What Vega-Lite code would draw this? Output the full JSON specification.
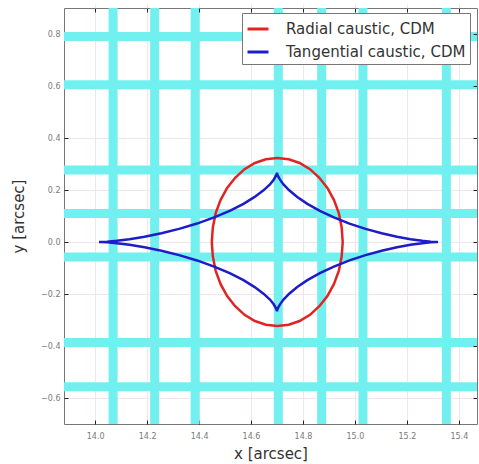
{
  "$schema": "https://vega.github.io/schema/vega-lite/v6.json",
  "width": 413,
  "height": 416,
  "autosize": {"type": "none"},
  "padding": {"left": 64, "top": 8, "right": 2, "bottom": 40},
  "background": "white",
  "config": {
    "view": {"stroke": "#777777", "strokeWidth": 1},
    "font": "DejaVu Sans",
    "axis": {
      "labelFont": "DejaVu Sans",
      "labelFontSize": 8,
      "labelColor": "#7a7a7a",
      "titleFont": "DejaVu Sans",
      "titleFontSize": 15,
      "titleFontWeight": "normal",
      "titleColor": "#333333",
      "tickColor": "#222222",
      "tickSize": 4,
      "offset": -4,
      "tickWidth": 1,
      "domain": false,
      "gridColor": "#f1e6e6",
      "gridWidth": 1
    },
    "legend": {
      "orient": "none",
      "legendX": 178,
      "legendY": 5,
      "fillColor": "white",
      "strokeColor": "#777777",
      "padding": 4,
      "labelFont": "DejaVu Sans",
      "labelFontSize": 15,
      "labelColor": "#333333",
      "labelLimit": 400,
      "symbolType": "stroke",
      "symbolSize": 440,
      "symbolStrokeWidth": 3,
      "labelOffset": 16,
      "rowPadding": 3,
      "cornerRadius": 0
    }
  },
  "datasets": {
    "vb": [
      {"x": 14.069}, {"x": 14.229}, {"x": 14.385}, {"x": 14.705}, {"x": 14.872}, {"x": 15.031}, {"x": 15.352}
    ],
    "hb": [
      {"y": 0.79}, {"y": 0.605}, {"y": 0.277}, {"y": 0.11}, {"y": -0.058}, {"y": -0.387}, {"y": -0.557}
    ],
    "curves": [
      {"series": "Radial caustic, CDM", "i": 0, "x": 14.953, "y": 0},
      {"series": "Radial caustic, CDM", "i": 1, "x": 14.949, "y": 0.056},
      {"series": "Radial caustic, CDM", "i": 2, "x": 14.938, "y": 0.111},
      {"series": "Radial caustic, CDM", "i": 3, "x": 14.919, "y": 0.162},
      {"series": "Radial caustic, CDM", "i": 4, "x": 14.894, "y": 0.208},
      {"series": "Radial caustic, CDM", "i": 5, "x": 14.863, "y": 0.247},
      {"series": "Radial caustic, CDM", "i": 6, "x": 14.827, "y": 0.280},
      {"series": "Radial caustic, CDM", "i": 7, "x": 14.787, "y": 0.304},
      {"series": "Radial caustic, CDM", "i": 8, "x": 14.745, "y": 0.318},
      {"series": "Radial caustic, CDM", "i": 9, "x": 14.701, "y": 0.323},
      {"series": "Radial caustic, CDM", "i": 10, "x": 14.657, "y": 0.318},
      {"series": "Radial caustic, CDM", "i": 11, "x": 14.615, "y": 0.304},
      {"series": "Radial caustic, CDM", "i": 12, "x": 14.575, "y": 0.280},
      {"series": "Radial caustic, CDM", "i": 13, "x": 14.539, "y": 0.247},
      {"series": "Radial caustic, CDM", "i": 14, "x": 14.508, "y": 0.208},
      {"series": "Radial caustic, CDM", "i": 15, "x": 14.483, "y": 0.162},
      {"series": "Radial caustic, CDM", "i": 16, "x": 14.464, "y": 0.111},
      {"series": "Radial caustic, CDM", "i": 17, "x": 14.453, "y": 0.056},
      {"series": "Radial caustic, CDM", "i": 18, "x": 14.449, "y": 0},
      {"series": "Radial caustic, CDM", "i": 19, "x": 14.453, "y": -0.056},
      {"series": "Radial caustic, CDM", "i": 20, "x": 14.464, "y": -0.111},
      {"series": "Radial caustic, CDM", "i": 21, "x": 14.483, "y": -0.162},
      {"series": "Radial caustic, CDM", "i": 22, "x": 14.508, "y": -0.208},
      {"series": "Radial caustic, CDM", "i": 23, "x": 14.539, "y": -0.247},
      {"series": "Radial caustic, CDM", "i": 24, "x": 14.575, "y": -0.280},
      {"series": "Radial caustic, CDM", "i": 25, "x": 14.615, "y": -0.304},
      {"series": "Radial caustic, CDM", "i": 26, "x": 14.657, "y": -0.318},
      {"series": "Radial caustic, CDM", "i": 27, "x": 14.701, "y": -0.323},
      {"series": "Radial caustic, CDM", "i": 28, "x": 14.745, "y": -0.318},
      {"series": "Radial caustic, CDM", "i": 29, "x": 14.787, "y": -0.304},
      {"series": "Radial caustic, CDM", "i": 30, "x": 14.827, "y": -0.280},
      {"series": "Radial caustic, CDM", "i": 31, "x": 14.863, "y": -0.247},
      {"series": "Radial caustic, CDM", "i": 32, "x": 14.894, "y": -0.208},
      {"series": "Radial caustic, CDM", "i": 33, "x": 14.919, "y": -0.162},
      {"series": "Radial caustic, CDM", "i": 34, "x": 14.938, "y": -0.111},
      {"series": "Radial caustic, CDM", "i": 35, "x": 14.949, "y": -0.056},
      {"series": "Radial caustic, CDM", "i": 36, "x": 14.953, "y": 0},

      {"series": "Tangential caustic, CDM", "i": 0, "x": 15.320, "y": 0},
      {"series": "Tangential caustic, CDM", "i": 1, "x": 15.313, "y": 0.0002},
      {"series": "Tangential caustic, CDM", "i": 2, "x": 15.292, "y": 0.0014},
      {"series": "Tangential caustic, CDM", "i": 3, "x": 15.259, "y": 0.0046},
      {"series": "Tangential caustic, CDM", "i": 4, "x": 15.214, "y": 0.0107},
      {"series": "Tangential caustic, CDM", "i": 5, "x": 15.162, "y": 0.0202},
      {"series": "Tangential caustic, CDM", "i": 6, "x": 15.103, "y": 0.0334},
      {"series": "Tangential caustic, CDM", "i": 7, "x": 15.041, "y": 0.0504},
      {"series": "Tangential caustic, CDM", "i": 8, "x": 14.979, "y": 0.0709},
      {"series": "Tangential caustic, CDM", "i": 9, "x": 14.919, "y": 0.0944},
      {"series": "Tangential caustic, CDM", "i": 10, "x": 14.865, "y": 0.1200},
      {"series": "Tangential caustic, CDM", "i": 11, "x": 14.817, "y": 0.1468},
      {"series": "Tangential caustic, CDM", "i": 12, "x": 14.778, "y": 0.1734},
      {"series": "Tangential caustic, CDM", "i": 13, "x": 14.747, "y": 0.1988},
      {"series": "Tangential caustic, CDM", "i": 14, "x": 14.725, "y": 0.2215},
      {"series": "Tangential caustic, CDM", "i": 15, "x": 14.711, "y": 0.2406},
      {"series": "Tangential caustic, CDM", "i": 16, "x": 14.703, "y": 0.2550},
      {"series": "Tangential caustic, CDM", "i": 17, "x": 14.700, "y": 0.2640},
      {"series": "Tangential caustic, CDM", "i": 18, "x": 14.700, "y": 0.2670},
      {"series": "Tangential caustic, CDM", "i": 19, "x": 14.700, "y": 0.2640},
      {"series": "Tangential caustic, CDM", "i": 20, "x": 14.696, "y": 0.2550},
      {"series": "Tangential caustic, CDM", "i": 21, "x": 14.688, "y": 0.2406},
      {"series": "Tangential caustic, CDM", "i": 22, "x": 14.673, "y": 0.2215},
      {"series": "Tangential caustic, CDM", "i": 23, "x": 14.648, "y": 0.1988},
      {"series": "Tangential caustic, CDM", "i": 24, "x": 14.614, "y": 0.1734},
      {"series": "Tangential caustic, CDM", "i": 25, "x": 14.571, "y": 0.1468},
      {"series": "Tangential caustic, CDM", "i": 26, "x": 14.518, "y": 0.1200},
      {"series": "Tangential caustic, CDM", "i": 27, "x": 14.458, "y": 0.0944},
      {"series": "Tangential caustic, CDM", "i": 28, "x": 14.392, "y": 0.0709},
      {"series": "Tangential caustic, CDM", "i": 29, "x": 14.323, "y": 0.0504},
      {"series": "Tangential caustic, CDM", "i": 30, "x": 14.255, "y": 0.0334},
      {"series": "Tangential caustic, CDM", "i": 31, "x": 14.190, "y": 0.0202},
      {"series": "Tangential caustic, CDM", "i": 32, "x": 14.132, "y": 0.0107},
      {"series": "Tangential caustic, CDM", "i": 33, "x": 14.083, "y": 0.0046},
      {"series": "Tangential caustic, CDM", "i": 34, "x": 14.046, "y": 0.0014},
      {"series": "Tangential caustic, CDM", "i": 35, "x": 14.023, "y": 0.0002},
      {"series": "Tangential caustic, CDM", "i": 36, "x": 14.015, "y": 0},
      {"series": "Tangential caustic, CDM", "i": 37, "x": 14.023, "y": -0.0002},
      {"series": "Tangential caustic, CDM", "i": 38, "x": 14.046, "y": -0.0014},
      {"series": "Tangential caustic, CDM", "i": 39, "x": 14.083, "y": -0.0046},
      {"series": "Tangential caustic, CDM", "i": 40, "x": 14.132, "y": -0.0107},
      {"series": "Tangential caustic, CDM", "i": 41, "x": 14.190, "y": -0.0202},
      {"series": "Tangential caustic, CDM", "i": 42, "x": 14.255, "y": -0.0334},
      {"series": "Tangential caustic, CDM", "i": 43, "x": 14.323, "y": -0.0504},
      {"series": "Tangential caustic, CDM", "i": 44, "x": 14.392, "y": -0.0709},
      {"series": "Tangential caustic, CDM", "i": 45, "x": 14.458, "y": -0.0944},
      {"series": "Tangential caustic, CDM", "i": 46, "x": 14.518, "y": -0.1200},
      {"series": "Tangential caustic, CDM", "i": 47, "x": 14.571, "y": -0.1468},
      {"series": "Tangential caustic, CDM", "i": 48, "x": 14.614, "y": -0.1734},
      {"series": "Tangential caustic, CDM", "i": 49, "x": 14.648, "y": -0.1988},
      {"series": "Tangential caustic, CDM", "i": 50, "x": 14.673, "y": -0.2215},
      {"series": "Tangential caustic, CDM", "i": 51, "x": 14.688, "y": -0.2406},
      {"series": "Tangential caustic, CDM", "i": 52, "x": 14.696, "y": -0.2550},
      {"series": "Tangential caustic, CDM", "i": 53, "x": 14.700, "y": -0.2640},
      {"series": "Tangential caustic, CDM", "i": 54, "x": 14.700, "y": -0.2670},
      {"series": "Tangential caustic, CDM", "i": 55, "x": 14.700, "y": -0.2640},
      {"series": "Tangential caustic, CDM", "i": 56, "x": 14.703, "y": -0.2550},
      {"series": "Tangential caustic, CDM", "i": 57, "x": 14.711, "y": -0.2406},
      {"series": "Tangential caustic, CDM", "i": 58, "x": 14.725, "y": -0.2215},
      {"series": "Tangential caustic, CDM", "i": 59, "x": 14.747, "y": -0.1988},
      {"series": "Tangential caustic, CDM", "i": 60, "x": 14.778, "y": -0.1734},
      {"series": "Tangential caustic, CDM", "i": 61, "x": 14.817, "y": -0.1468},
      {"series": "Tangential caustic, CDM", "i": 62, "x": 14.865, "y": -0.1200},
      {"series": "Tangential caustic, CDM", "i": 63, "x": 14.919, "y": -0.0944},
      {"series": "Tangential caustic, CDM", "i": 64, "x": 14.979, "y": -0.0709},
      {"series": "Tangential caustic, CDM", "i": 65, "x": 15.041, "y": -0.0504},
      {"series": "Tangential caustic, CDM", "i": 66, "x": 15.103, "y": -0.0334},
      {"series": "Tangential caustic, CDM", "i": 67, "x": 15.162, "y": -0.0202},
      {"series": "Tangential caustic, CDM", "i": 68, "x": 15.214, "y": -0.0107},
      {"series": "Tangential caustic, CDM", "i": 69, "x": 15.259, "y": -0.0046},
      {"series": "Tangential caustic, CDM", "i": 70, "x": 15.292, "y": -0.0014},
      {"series": "Tangential caustic, CDM", "i": 71, "x": 15.313, "y": -0.0002},
      {"series": "Tangential caustic, CDM", "i": 72, "x": 15.320, "y": 0}
    ]
  },
  "layer": [
    {
      "data": {"name": "vb"},
      "mark": {"type": "rule", "color": "#72f0f0", "strokeWidth": 9},
      "encoding": {
        "x": {
          "field": "x", "type": "quantitative",
          "scale": {"domain": [13.88, 15.47], "nice": false, "zero": false},
          "axis": {
            "orient": "bottom",
            "title": "x [arcsec]",
            "values": [14.0, 14.2, 14.4, 14.6, 14.8, 15.0, 15.2, 15.4],
            "format": ".1f",
            "labelPadding": 8,
            "titlePadding": 6,
            "grid": true
          }
        }
      }
    },
    {
      "data": {"name": "hb"},
      "mark": {"type": "rule", "color": "#72f0f0", "strokeWidth": 9},
      "encoding": {
        "y": {
          "field": "y", "type": "quantitative",
          "scale": {"domain": [-0.7, 0.9], "nice": false, "zero": false},
          "axis": {
            "orient": "left",
            "title": "y [arcsec]",
            "values": [-0.6, -0.4, -0.2, 0.0, 0.2, 0.4, 0.6, 0.8],
            "format": ".1f",
            "labelPadding": 4,
            "titlePadding": 14,
            "grid": true
          }
        }
      }
    },
    {
      "data": {"name": "curves"},
      "mark": {"type": "line", "strokeWidth": 2.5},
      "encoding": {
        "x": {
          "field": "x", "type": "quantitative",
          "scale": {"domain": [13.88, 15.47], "nice": false, "zero": false},
          "axis": {
            "orient": "top", "title": null, "labels": false, "grid": false, "zindex": 1,
            "values": [14.0, 14.2, 14.4, 14.6, 14.8, 15.0, 15.2, 15.4]
          }
        },
        "y": {
          "field": "y", "type": "quantitative",
          "scale": {"domain": [-0.7, 0.9], "nice": false, "zero": false},
          "axis": {
            "orient": "right", "title": null, "labels": false, "grid": false, "zindex": 1,
            "values": [-0.6, -0.4, -0.2, 0.0, 0.2, 0.4, 0.6, 0.8]
          }
        },
        "color": {
          "field": "series", "type": "nominal",
          "scale": {
            "domain": ["Radial caustic, CDM", "Tangential caustic, CDM"],
            "range": ["#e02424", "#1c1cc8"]
          },
          "legend": {"title": null}
        },
        "order": {"field": "i", "type": "quantitative"}
      }
    }
  ],
  "resolve": {"axis": {"x": "independent", "y": "independent"}}
}
